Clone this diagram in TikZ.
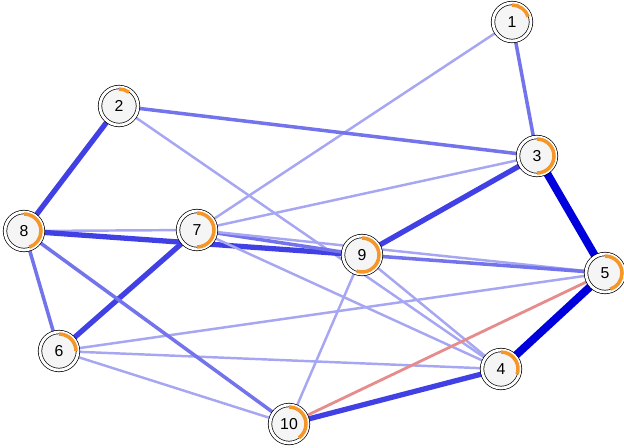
\documentclass[tikz,border=0pt]{standalone}
\usepackage{fontspec}
\setmainfont{Liberation Sans}
\usetikzlibrary{calc, backgrounds}
\definecolor{posA}{RGB}{0,0,220}
\definecolor{negA}{RGB}{230,140,140}
\definecolor{pieO}{RGB}{245,150,40}
\newcommand{\vnode}[4]{% name, x, y, pie fraction
  \node[vertex] (#1) at (#2, #3) {#1};
  \draw[pieO, line width=2pt] ($(#1)+(90:0.34cm)$) arc[start angle=90, end angle={90-360*#4}, radius=0.34cm];
}
\begin{document}
\begin{tikzpicture}[x=0.02cm, y=-0.02cm]
  \useasboundingbox (0, 0) rectangle (624, 447);
  \tikzstyle{vertex}=[circle, draw, double, double distance=1.6pt, minimum width=0.76cm, inner sep=0pt, fill=white!96!black, font=\small]
  \tikzstyle{w1}=[posA!35, line width=1.4pt]
  \tikzstyle{w2}=[posA!55, line width=2pt]
  \tikzstyle{w3}=[posA!75, line width=3pt]
  \tikzstyle{w4}=[posA, line width=4.5pt]

  \vnode{1}{512}{22}{0.2}
  \vnode{2}{119}{106}{0.1}
  \vnode{3}{537}{156}{0.5}
  \vnode{4}{501}{369}{0.3}
  \vnode{5}{605}{273}{0.45}
  \vnode{6}{59}{351}{0.25}
  \vnode{7}{197}{230}{0.5}
  \vnode{8}{24}{231}{0.45}
  \vnode{9}{362}{255}{0.55}
  \vnode{10}{289}{424}{0.4}

  \begin{scope}[on background layer]
  \draw[w1] (1.center) -- (7.center);
  \draw[w2] (1.center) -- (3.center);
  \draw[w2] (2.center) -- (3.center);
  \draw[w1] (2.center) -- (4.center);
  \draw[w3] (2.center) -- (8.center);
  \draw[w1] (3.center) -- (7.center);
  \draw[w3] (3.center) -- (9.center);
  \draw[w4] (3.center) -- (5.center);
  \draw[w1] (8.center) -- (7.center);
  \draw[w3] (8.center) -- (9.center);
  \draw[w2] (7.center) -- (9.center);
  \draw[w1] (7.center) -- (5.center);
  \draw[w2] (9.center) -- (5.center);
  \draw[w1] (7.center) -- (4.center);
  \draw[w1] (9.center) -- (4.center);
  \draw[w1] (9.center) -- (10.center);
  \draw[w1] (6.center) -- (5.center);
  \draw[w1] (6.center) -- (4.center);
  \draw[w1] (6.center) -- (10.center);
  \draw[w3] (6.center) -- (7.center);
  \draw[w2] (8.center) -- (6.center);
  \draw[w2] (8.center) -- (10.center);
  \draw[w3] (10.center) -- (4.center);
  \draw[negA, line width=1.6pt] (10.center) -- (5.center);
  \draw[w4] (4.center) -- (5.center);
  \end{scope}
\end{tikzpicture}
\end{document}
